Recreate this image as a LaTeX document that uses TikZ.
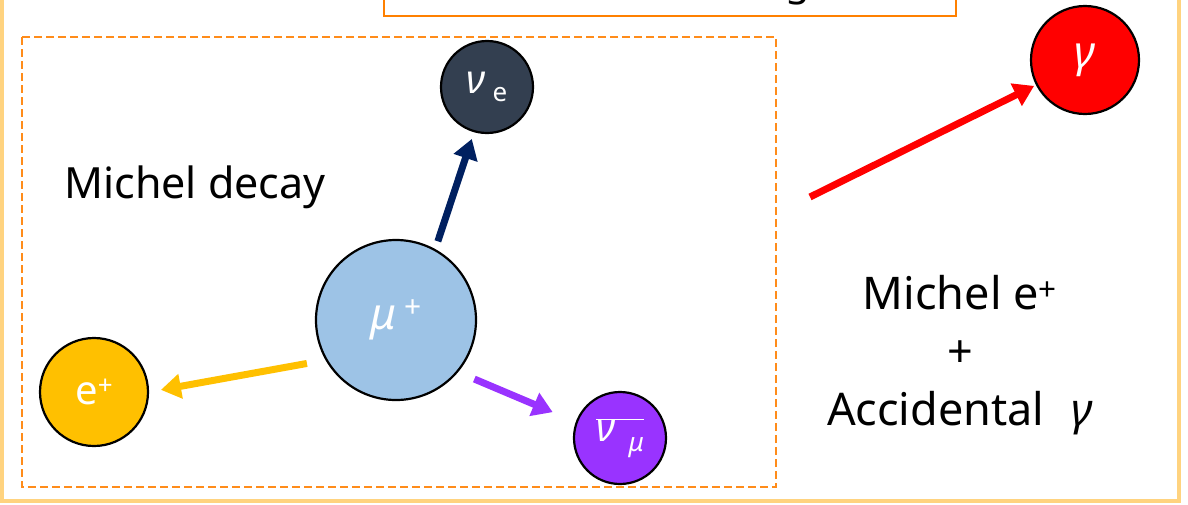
\documentclass[tikz,border=0pt]{standalone}
\usepackage{fontspec}
\setmainfont{Noto Sans}
\usetikzlibrary{arrows.meta}
\definecolor{outerc}{HTML}{FFD37F}
\definecolor{topc}{HTML}{FF8000}
\definecolor{dashc}{HTML}{FF8C1A}
\definecolor{nuec}{HTML}{333F50}
\definecolor{navyc}{HTML}{002060}
\definecolor{muc}{HTML}{9DC3E6}
\definecolor{posc}{HTML}{FFC000}
\definecolor{purpc}{HTML}{9933FF}
\definecolor{gamc}{HTML}{FF0000}
\begin{document}
\begin{tikzpicture}[x=1pt,y=-1pt,
  ball/.style={circle,draw=black,line width=2.2pt,inner sep=0pt,text=white,font=\fontsize{40}{40}\selectfont},
  arr/.style={line width=7pt,-{Triangle[length=20pt,width=24pt]}},
  lbl/.style={font=\fontsize{43}{58}\selectfont,align=center}]
\useasboundingbox (0,0) rectangle (1188,504);
\draw[draw=outerc,line width=4pt] (2,-20) rectangle (1179,501);
\draw[draw=topc,line width=2pt] (384,-20) rectangle (956,16);
\node[anchor=base,font=\fontsize{40}{40}\selectfont] (title) at (810,-5) {Background};
\draw[draw=dashc,line width=2.5pt,dash pattern=on 8pt off 4pt] (22,37) rectangle (776,487);
\node[ball,fill=nuec,minimum size=92pt] (nue) at (487,87) {\itshape ν\,\raisebox{-8pt}{\upshape\fontsize{26}{26}\selectfont e}};
\node[ball,fill=gamc,minimum size=108pt] (gam) at (1085,60) {\fontsize{44}{44}\selectfont\itshape γ};
\node[ball,fill=muc,minimum size=160pt] (mu) at (396,320) {\fontsize{44}{44}\selectfont\itshape μ\,\raisebox{12pt}{\upshape\fontsize{30}{30}\selectfont +}};
\node[ball,fill=posc,minimum size=108pt] (pos) at (94,392) {e\raisebox{10pt}{\fontsize{26}{26}\selectfont +}};
\node[ball,fill=purpc,minimum size=92pt] (numu) at (620,438) {$\overline{\hbox{\itshape ν\,\,\raisebox{-10pt}{\fontsize{26}{26}\selectfont μ}}}$};
\node[lbl] (md) at (195,187) {Michel decay};
\node[lbl,font=\fontsize{45}{58}\selectfont] (acc) at (960,355) {Michel e\textsuperscript{+}\\+\\Accidental\hspace{0.6em}\textit{γ}};
\coordinate (rs) at (810,197);
\draw[arr,navyc,shorten >=7pt] (mu.62) ++(62:8pt) coordinate (ns) -- (nue.254);
\draw[arr,posc,shorten >=12pt] (mu.206) ++(206:18pt) coordinate (ys) -- (pos.0);
\draw[arr,purpc,shorten >=25pt] (mu.323) ++(323:17pt) coordinate (ps) -- (numu.160);
\draw[arr,gamc,shorten >=2pt] (rs) -- (gam.207);
\end{tikzpicture}
\end{document}
